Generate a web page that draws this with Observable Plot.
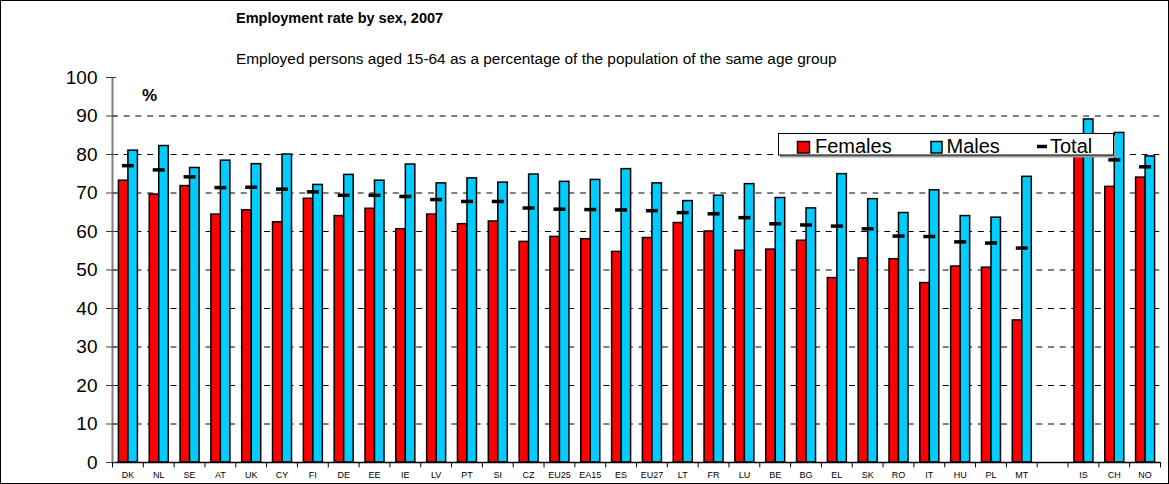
<!DOCTYPE html>
<html><head><meta charset="utf-8">
<script src="https://cdn.jsdelivr.net/npm/d3@7"></script>
<script src="https://cdn.jsdelivr.net/npm/@observablehq/plot@0.6"></script>
<style>
body{margin:0;background:#fff;}
#wrap{position:relative;width:1169px;height:484px;overflow:hidden;background:#fff;}
#wrap > svg{position:absolute;left:0;top:0;}
#frame{position:absolute;left:0;top:0;width:1169px;height:484px;box-sizing:border-box;border:1px solid #000;pointer-events:none;}
</style>
</head><body>
<div id="wrap"></div>
<script>
// ---- data ----
const countries = ["DK","NL","SE","AT","UK","CY","FI","DE","EE","IE","LV","PT","SI","CZ","EU25","EA15","ES","EU27","LT","FR","LU","BE","BG","EL","SK","RO","IT","HU","PL","MT","","IS","CH","NO"];
const females = [73.2,69.6,71.8,64.4,65.5,62.4,68.5,64.0,65.9,60.6,64.4,61.9,62.6,57.3,58.6,58.0,54.7,58.3,62.2,60.0,55.0,55.3,57.6,47.9,53.0,52.8,46.6,50.9,50.6,36.9,null,80.8,71.6,74.0];
const males   = [81.0,82.2,76.5,78.4,77.5,80.0,72.1,74.7,73.2,77.4,72.5,73.8,72.7,74.8,72.9,73.4,76.2,72.5,67.9,69.3,72.3,68.7,66.0,74.9,68.4,64.8,70.7,64.0,63.6,74.2,null,89.1,85.6,79.5];
const totals  = [77.1,76.0,74.2,71.4,71.5,71.0,70.3,69.4,69.4,69.1,68.3,67.8,67.8,66.1,65.8,65.7,65.6,65.4,64.9,64.6,63.6,62.0,61.7,61.4,60.7,58.8,58.7,57.3,57.0,55.7,null,85.1,78.6,76.8];
const yTicks = [0,10,20,30,40,50,60,70,80,90,100];
const gridLines = [10,20,30,40,50,60,70,80,90];
const seriesNames = ["Females","Males","Total"];
const titleText = "Employment rate by sex, 2007";
const subtitleText = "Employed persons aged 15-64 as a percentage of the population of the same age group";
const unitText = "%";

const rows = countries.map((c,i)=>({country:c, female:females[i], male:males[i], total:totals[i]})).filter(d=>d.female!=null);

const W=1169, H=484, mL=112, mR=9, mT=77, mB=22;
const innerW = W-mL-mR;
const bw = innerW/countries.length;
const barW = 9.5, off = 0.5;
const c = bw/2 + off;
const FONT = '"Liberation Sans", Arial, sans-serif';

const chart = Plot.plot({
  width:W, height:H, marginLeft:mL, marginRight:mR, marginTop:mT, marginBottom:mB,
  style:{fontFamily:FONT, background:"white", overflow:"visible", color:"black"},
  x:{type:"band", domain:countries, padding:0, round:false, axis:null},
  y:{domain:[0,100], axis:null},
  marks:[
    Plot.ruleY(gridLines, {y:d=>d, stroke:"black", strokeWidth:1, strokeDasharray:"6,5.7"}),
    Plot.barY(rows, {x:"country", y:"female", fill:"#ff0000", stroke:"black", strokeWidth:1.5, insetLeft:c-barW, insetRight:bw-c}),
    Plot.barY(rows, {x:"country", y:"male", fill:"#00ccff", stroke:"black", strokeWidth:1.5, insetLeft:c, insetRight:bw-c-barW}),
    Plot.tickY(rows, {x:"country", y:"total", stroke:"black", strokeWidth:3.5, insetLeft:c-6, insetRight:bw-c-6}),
    Plot.ruleY([0], {y:d=>d, stroke:"black", strokeWidth:1.5}),
    Plot.ruleX([countries[0]], {x:d=>d, dx:-bw/2, y1:0, y2:100, stroke:"#808080", strokeWidth:2}),
    Plot.ruleY(yTicks, {y:d=>d, dx:-6, insetRight:innerW-10, stroke:"#404040", strokeWidth:1}),
    Plot.ruleX(countries, {x:d=>d, dx:-bw/2, y1:0, y2:-1.4, stroke:"black"}),
    Plot.ruleX([countries[countries.length-1]], {x:d=>d, dx:bw/2, y1:0, y2:-1.4, stroke:"black"}),
    Plot.text(yTicks, {y:d=>d, frameAnchor:"left", dx:-15, text:d=>String(d), textAnchor:"end", fontSize:19}),
    Plot.text(countries, {x:d=>d, y:0, dy:13, text:d=>d, fontSize:9})
  ]
});
const wrap = document.getElementById("wrap");
wrap.appendChild(chart);

// overlay: titles and legend
const ns = "http://www.w3.org/2000/svg";
const ov = document.createElementNS(ns,"svg");
ov.setAttribute("width",W); ov.setAttribute("height",H);
ov.style.fontFamily = FONT;
function el(tag, attrs, text){ const e=document.createElementNS(ns,tag); for(const k in attrs) e.setAttribute(k,attrs[k]); if(text!=null) e.textContent=text; ov.appendChild(e); return e; }
el("text",{x:236,y:23.3,"font-size":14.5,"font-weight":"bold"},titleText);
el("text",{x:236,y:64,"font-size":15.4},subtitleText);
el("text",{x:142,y:100.5,"font-size":17,"font-weight":"bold"},unitText);
// legend box
el("rect",{x:780,y:135.5,width:336,height:22,fill:"#999"});
el("rect",{x:778.5,y:133.5,width:335,height:21.5,fill:"white",stroke:"black","stroke-width":1});
el("rect",{x:797.5,y:141.5,width:12,height:11.5,fill:"#ff0000",stroke:"black","stroke-width":1.5});
el("text",{x:815,y:152.7,"font-size":20},seriesNames[0]);
el("rect",{x:931,y:141.5,width:11,height:11.5,fill:"#00ccff",stroke:"black","stroke-width":1.5});
el("text",{x:946.5,y:152.7,"font-size":20},seriesNames[1]);
el("line",{x1:1037,x2:1047,y1:146.5,y2:146.5,stroke:"black","stroke-width":3.5});
el("text",{x:1050,y:152.7,"font-size":20},seriesNames[2]);
wrap.appendChild(ov);
const fr = document.createElement("div"); fr.id="frame"; wrap.appendChild(fr);
</script>
</body></html>
